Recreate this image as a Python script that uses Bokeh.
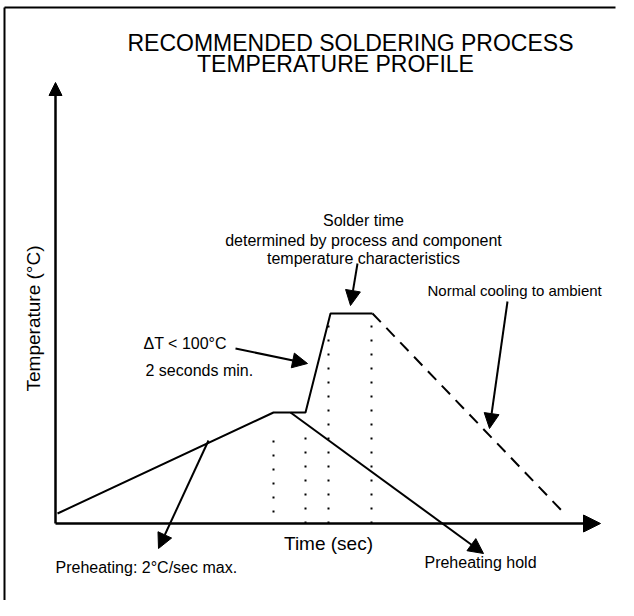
import math
from bokeh.plotting import figure
from bokeh.models import Range1d, Arrow, NormalHead
from bokeh.core.properties import value
from bokeh.embed import file_html
from bokeh.resources import INLINE

# Schematic profile (time units, temperature units)
profile_t = [2, 218, 250, 275, 317]
profile_T = [10, 111, 111, 210, 210]
cooling_t = [317, 508]
cooling_T = [210, 11]
# dotted phase markers
marker_t = [218, 250, 273, 316]
marker_lo = [11, 0, 0, 0]
marker_hi = [95, 95, 200, 205]

title_lines = ["RECOMMENDED SOLDERING PROCESS", "TEMPERATURE PROFILE"]
solder_lines = ["Solder time", "determined by process and component", "temperature characteristics"]

FONT = value("Liberation Sans")

p = figure(width=618, height=600, output_backend="svg", toolbar_location=None,
           x_range=Range1d(-55, 563), y_range=Range1d(-77, 523),
           x_axis_type=None, y_axis_type=None, min_border=0)
p.grid.visible = False
p.outline_line_color = None
p.background_fill_color = "white"
p.border_fill_color = "white"

# frame (left and top edges)
p.segment(x0=[-51, -51], y0=[-77, 516], x1=[-51, 560], y1=[516, 516], line_color="black", line_width=2)

# axes with arrows
p.add_layout(Arrow(end=NormalHead(size=13, fill_color="black", line_color="black"),
                   x_start=0, y_start=0, x_end=0, y_end=441, line_width=2.5, line_color="black"))
p.add_layout(Arrow(end=NormalHead(size=17, fill_color="black", line_color="black"),
                   x_start=0, y_start=0, x_end=545, y_end=0, line_width=2.5, line_color="black"))

# profile
p.line(profile_t, profile_T, line_color="black", line_width=2)
p.line(cooling_t, cooling_T, line_color="black", line_width=2, line_dash="12 8")
p.segment(x0=marker_t, y0=marker_lo, x1=marker_t, y1=marker_hi, line_color="black",
          line_width=2, line_dash="2 12")

# annotation arrows
arrows = [((153, 83), (103, -25)),
          ((235, 111), (428, -30)),
          ((180, 175), (252, 160)),
          ((302, 260), (295, 218)),
          ((452, 222), (434, 95))]
for (xs, ys), (xe, ye) in arrows:
    p.add_layout(Arrow(end=NormalHead(size=15, fill_color="black", line_color="black"),
                       x_start=xs, y_start=ys, x_end=xe, y_end=ye, line_width=2, line_color="black"))

# titles
p.text(x=[295, 280], y=[481, 460], text=title_lines, text_font=FONT, text_font_size="23px",
       text_align="center", text_baseline="middle", text_color="black")

# labels
p.text(x=[308, 308, 308], y=[303, 283, 265], text=solder_lines, text_font=FONT,
       text_font_size="16px", text_align="center", text_baseline="middle")
p.text(x=[88], y=[180], text=["ΔT < 100°C"], text_font=FONT, text_font_size="16px",
       text_align="left", text_baseline="middle")
p.text(x=[90], y=[153], text=["2 seconds min."], text_font=FONT, text_font_size="16px",
       text_align="left", text_baseline="middle")
p.text(x=[372], y=[233], text=["Normal cooling to ambient"], text_font=FONT, text_font_size="15px",
       text_align="left", text_baseline="middle")
p.text(x=[273], y=[-20], text=["Time (sec)"], text_font=FONT, text_font_size="19px",
       text_align="center", text_baseline="middle")
p.text(x=[0], y=[-44], text=["Preheating: 2°C/sec max."], text_font=FONT, text_font_size="16px",
       text_align="left", text_baseline="middle")
p.text(x=[425], y=[-39], text=["Preheating hold"], text_font=FONT, text_font_size="16px",
       text_align="center", text_baseline="middle")
p.text(x=[-22], y=[205], text=["Temperature (°C)"], text_font=FONT, text_font_size="19px",
       text_align="center", text_baseline="middle", angle=math.pi / 2)

open("out.html", "w").write(file_html(p, INLINE))
